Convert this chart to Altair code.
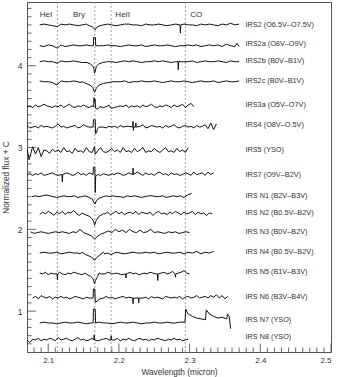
import altair as alt
import pandas as pd

# ---------------- data ----------------
NAMES = ["IRS2", "IRS2a", "IRS2b", "IRS2c", "IRS3a", "IRS4", "IRS5", "IRS7",
         "IRS N1", "IRS N2", "IRS N3", "IRS N4", "IRS N5", "IRS N6", "IRS N7", "IRS N8"]
LABELS = ["IRS2 (O6.5V–O7.5V)", "IRS2a (O8V–O9V)", "IRS2b (B0V–B1V)", "IRS2c (B0V–B1V)",
          "IRS3a (O5V–O7V)", "IRS4 (O8V–O.5V)", "IRS5 (YSO)", "IRS7 (O9V–B2V)",
          "IRS N1 (B2V–B3V)", "IRS N2 (B0.5V–B2V)", "IRS N3 (B0V–B2V)", "IRS N4 (B0.5V–B2V)",
          "IRS N5 (B1V–B3V)", "IRS N6 (B3V–B4V)", "IRS N7 (YSO)", "IRS N8 (YSO)"]
LABEL_Y = [4.50, 4.27, 4.06, 3.82, 3.52, 3.27, 2.97, 2.67,
           2.41, 2.20, 1.97, 1.72, 1.48, 1.17, 0.89, 0.68]
OFFSETS = [4.50, 4.245, 4.05, 3.805, 3.50, 3.25, 2.95, 2.67,
           2.40, 2.19, 1.96, 1.71, 1.455, 1.16, 0.855, 0.647]
STARTS = [2.088, 2.088, 2.088, 2.088, 2.070, 2.070, 2.070, 2.070,
          2.077, 2.088, 2.075, 2.088, 2.088, 2.078, 2.088, 2.070]
STEPS = [0.006, 0.006, 0.006, 0.006, 0.004, 0.004, 0.004, 0.004,
         0.005, 0.004, 0.005, 0.006, 0.004, 0.004, 0.006, 0.004]

# flux deviations in units of 0.01 on the sampling grid
IRS2 = [0,1,0,-1,0,1,0,1,0,-1, 0,1,0,1,0,0,1,0,-1,0, 1,1,0,0,-1,1,0,0,1,0,
        -1,0,1,0,1,0,0,-1,1,0, 1,0,-1,1,0,2,0,1]
IRS2a = [0,-1,1,0,0,1,-1,0,1,0, 0,1,0,-1,0,0,1,0,0,-1, 0,1,0,0,1,-1,0,1,0,0,
         1,0,-1,0,0,1,0,1,-1,0, 1,0,1,-1,2,0,1,-1]
IRS2b = [0,1,0,0,-1,1,0,0,1,0, -1,0,1,0,0,1,0,0,-1,0, 1,0,1,0,-1,0,0,1,0,1,
         0,-1,0,1,0,0,1,-1,0,1, 0,0,1,0,-1,1,0,0]
IRS2c = [1,0,0,-1,0,1,0,0,1,0, 0,-1,0,1,0,0,1,0,0,0, 1,-1,0,0,1,0,0,1,0,-1,
         0,1,0,0,1,0,-1,0,1,0, 0,1,-1,0,1,0,0,1]
IRS3a = [0,1,-1,2,0,1,3,1,0,-1, 1,0,2,-1,1,3,0,-1,1,0, 2,0,-1,1,2,0,1,-1,0,2,
         1,-1,0,1,0,2,-1,1,0,1, -1,2,0,1,3,0,-1,1,0,2, 1,-1,2,0,1,3,-1,2,4,0]
IRS4 = [2,-1,0,1,-1,2,0,1,0,-1, 1,4,0,1,-1,0,1,2,-1,0, 3,1,0,-1,1,0,2,0,-1,1,
        0,1,-1,2,0,1,1,-1,0,2, 1,3,-1,0,2,1,0,1,-1,2, 0,1,3,0,-1,1,2,0,1,-1,
        2,0,1,3,-2,5,-3,4]
IRS5 = [4,-5,6,-3,5,-6,2,1,-2,3, 0,2,-1,5,0,1,-2,4,0,1, -1,5,0,-1,2,1,5,0,-1,1,
        4,0,2,-1,5,0,1,-1,4,0, 2,5,-1,1,0,4,1,-1,2,5, 0,1,-1,4,0,2,-1,5]
IRS7 = [0,1,-1,1,0,2,-1,0,1,2, 0,-1,1,0,2,1,-1,0,3,0, 1,-1,2,0,1,3,-1,1,0,-1,
        1,0,2,1,-1,0,2,1,0,3, 1,-1,2,0,1,-1,2,3,0,1, -1,2,0,1,-1,0,2,1,-1,3,
        0,1,2,-1,3,0,2]
N1 = [0,1,0,1,2,1,0,-1,0,1, 0,0,1,-1,0,1,0,0,1,0, -1,1,0,1,0,0,-1,1,0,1,
      0,-1,0,1,1,0,0,1,-1,0, 1,0,1,-1,2,1]
N2 = [-1,2,0,3,1,-2,2,0,3,-1, 2,1,4,0,-2,1,3,0,2,-1, 1,0,-1,0,2,-1,1,3,0,2,
      -1,1,2,0,3,-1,2,1,0,2, -2,1,3,0,1,-1,2,0,3,1, -1,2,0,1,3,-1,2,0,1,-2, 1,0]
N3 = [1,-1,0,1,0,-1,0,1,0,1, 0,-1,1,0,4,0,1,0,-1,0, 1,0,2,0,4,1,3,0,4,1,
      0,3,0,1,4,0,1,0,-1,1, 0,1,-1,0,1,0]
N4 = [0,1,0,0,1,-1,0,1,0,0, 1,0,-1,0,0,1,0,0,1,0, -1,0,1,0,0,1,0,1,-1,0,
      1,0,0,1,-1,1,0,2,-1,1, 0,2]
N5 = [1,0,2,-1,1,0,1,2,0,-1, 1,0,2,1,0,-1,1,0,2,1, 0,1,-1,0,2,1,0,1,0,-1,
      1,0,2,0,1,-1,0,1,0,2, 1,0,-1,1,2,0,1,3,0,1, 2,4,1,0]
N6 = [0,2,-1,3,1,0,2,-1,1,0, 2,0,1,-1,0,2,1,0,-1,1, 0,2,1,0,-1,1,2,0,1,-1,
      0,1,2,0,1,-1,0,2,1,0, 1,-1,2,0,1,0,-1,2,1,0, 1,0,2,-1,1,2,0,1,3,0,
      1,2,0,3,1,4,0,3,-1,2]
N7 = [0,1,0,0,-1,0,1,0,0,1, 0,-1,0,0,1,0,0,-1,0,1, 0,0,1,0,-1,0,0,1,0,0,
      1,0,0,1, 0,11,8,6,5,3,11,8,6,7,6,-2]
N8 = [0,-3,1,0,2,-1,1,0,2,1, -1,3,0,1,2,0,-1,1,3,0, 1,-1,0,2,1,-1,0,1,2,0,
      1,0,2,-1,1,0,2,0,-1,1, 2,0,1,-1,1,0,2,1,0,-1, 1,0,2,0,1,-1,0,1]
SERIES = [IRS2, IRS2a, IRS2b, IRS2c, IRS3a, IRS4, IRS5, IRS7,
          N1, N2, N3, N4, N5, N6, N7, N8]

# line features (wavelength, deviation in 0.01)
FEATURES = [
    [(2.113,-2),(2.158,-1),(2.162,-2),(2.1645,-4),(2.1665,-6),(2.1685,-3),(2.173,-1),
     (2.2865,0),(2.287,-10),(2.2875,0)],
    [(2.113,-3),(2.1638,0),(2.1642,10),(2.1668,10),(2.1672,0),(2.364,-1),(2.367,3)],
    [(2.113,-2),(2.155,-1),(2.160,-3),(2.163,-5),(2.1645,-8),(2.1655,-14),(2.1665,-12),
     (2.168,-6),(2.171,-3),(2.177,-1),(2.2835,0),(2.284,-10),(2.2845,0)],
    [(2.1125,-4),(2.145,-1),(2.153,-2),(2.159,-4),(2.163,-7),(2.1655,-13),(2.168,-8),
     (2.172,-4),(2.178,-2),(2.186,-1)],
    [(2.1643,0),(2.1648,11),(2.1656,6),(2.1663,9),(2.167,-2),(2.170,-3),(2.173,0),(2.189,-2)],
    [(2.1635,0),(2.164,9),(2.1665,9),(2.167,-8),(2.1685,-7),(2.1695,-2),(2.172,0),
     (2.2195,0),(2.220,7),(2.2205,-4),(2.221,0),(2.2235,0),(2.224,5),(2.2245,0)],
    [(2.073,-10),(2.1655,6),(2.1665,-3)],
    [(2.1195,0),(2.120,-9),(2.1205,0),(2.1635,0),(2.164,9),(2.166,9),(2.1665,-22),
     (2.1672,-2),(2.170,0),(2.2195,0),(2.220,8),(2.2205,0)],
    [(2.158,-1),(2.1625,-3),(2.165,-8),(2.1665,-9),(2.168,-5),(2.172,-2),(2.178,0),(2.303,4)],
    [(2.152,-1),(2.158,-3),(2.162,-6),(2.1645,-10),(2.1655,-14),(2.168,-8),(2.172,-3),(2.178,0)],
    [(2.150,0),(2.156,-2),(2.161,-4),(2.1655,-8),(2.169,-5),(2.174,-2),(2.180,0)],
    [(2.145,-1),(2.153,-2),(2.159,-4),(2.163,-6),(2.1655,-9),(2.168,-6),(2.172,-3),
     (2.180,-1),(2.189,-2)],
    [(2.1125,0),(2.113,-7),(2.1135,0),(2.155,-1),(2.160,-3),(2.1635,-6),(2.1655,-12),
     (2.167,-8),(2.170,-3),(2.175,0),(2.2095,0),(2.210,-5),(2.2105,0),(2.2545,0),
     (2.255,-8),(2.2555,0),(2.2795,0),(2.280,-4),(2.2805,0)],
    [(2.1635,0),(2.164,11),(2.166,11),(2.1665,-5),(2.169,-4),(2.173,-1),(2.178,0),
     (2.2195,0),(2.220,-7),(2.2205,0),(2.2275,0),(2.228,-6),(2.2285,0)],
    [(2.1635,0),(2.164,17),(2.1665,17),(2.167,0),(2.2935,1),(2.2945,17),(2.3225,4),
     (2.3235,16),(2.3525,5),(2.3535,11),(2.356,8),(2.358,-7)],
    [(2.1645,0),(2.165,6),(2.1655,0),(2.1885,0),(2.189,5),(2.1895,0)],
]

LINE_WL = [2.113, 2.166, 2.189, 2.294]
LINE_NAMES = ["HeI", "Brγ", "HeII", "CO"]
LINE_TEXT_X = [2.088, 2.135, 2.195, 2.301]

X_LABELS = [2.1, 2.2, 2.3, 2.4, 2.5]
Y_LABELS = [1, 2, 3, 4]

XDOM = [2.07, 2.5]
YDOM = [0.5, 4.78]

# ---------------- build table ----------------
rows = []
for name, c, s, st, vals, feats in zip(NAMES, OFFSETS, STARTS, STEPS, SERIES, FEATURES):
    fx = [f[0] for f in feats]
    pts = []
    for i, v in enumerate(vals):
        w = s + st * i
        if any(abs(w - f) < 0.002 for f in fx):
            continue
        pts.append((w, c + v / 100.0))
    for w, v in feats:
        pts.append((w, c + v / 100.0))
    pts.sort()
    for k, (w, f) in enumerate(pts):
        rows.append({"name": name, "wl": w, "flux": f, "k": k})
spec = pd.DataFrame(rows)

lab_df = pd.DataFrame({"label": LABELS, "flux": LABEL_Y, "wl": [2.379] * len(LABELS)})
lines_df = pd.DataFrame({"wl": LINE_WL, "name": LINE_NAMES})
ltext_df = pd.DataFrame({"wl": LINE_TEXT_X, "name": LINE_NAMES, "flux": [4.625] * 4})

xminor = [round(2.07 + 0.01 * i, 2) for i in range(1, 43)]
xminor = [v for v in xminor if round(v * 10, 6) != round(v * 10)]
yminor = [round(0.5 + 0.1 * i, 1) for i in range(1, 43)]
yminor = [v for v in yminor if abs(v - round(v)) > 1e-6]

xs = alt.Scale(domain=XDOM, nice=False, zero=False)
ys = alt.Scale(domain=YDOM, nice=False, zero=False)
FONT = "Liberation Sans"

XAX = alt.Axis(values=X_LABELS, format=".1f", tickSize=0, domain=False,
               grid=False, labelPadding=4, titlePadding=3,
               labelFontSize=8, titleFontSize=8.3, labelFont=FONT,
               titleFont=FONT, titleFontWeight="normal",
               labelColor="#333", titleColor="#333")
YAX = alt.Axis(values=Y_LABELS, format="d", tickSize=0, domain=False,
               grid=False, labelPadding=5, titlePadding=7,
               labelFontSize=8.5, titleFontSize=8.3, labelFont=FONT,
               titleFont=FONT, titleFontWeight="normal",
               labelColor="#333", titleColor="#333")
XT = "Wavelength (micron)"
YT = "Normalized flux + C"


def X():
    return alt.X("wl:Q", scale=xs, axis=XAX, title=XT)


def Y():
    return alt.Y("flux:Q", scale=ys, axis=YAX, title=YT)


spectra = alt.Chart(spec).mark_line(color="#111111", strokeWidth=1.0, clip=True).encode(
    x=X(), y=Y(), detail="name:N", order="k:Q")

dashed = alt.Chart(lines_df).mark_rule(color="#8a8a8a", strokeWidth=0.8,
                                       strokeDash=[2, 2]).encode(x=X())

line_text = alt.Chart(ltext_df).mark_text(align="left", baseline="middle", fontSize=8,
                                          font=FONT, color="#333").encode(
    x=X(), y=Y(), text="name:N")

labels = alt.Chart(lab_df).mark_text(align="left", baseline="middle", fontSize=7.3,
                                     font=FONT, color="#333").encode(
    x=X(), y=Y(), text="label:N")

xminor_t = alt.Chart(pd.DataFrame({"wl": xminor})).mark_rule(color="#444", strokeWidth=0.8).encode(
    x=X(), y=alt.value(350), y2=alt.value(345.5))
xmajor_t = alt.Chart(pd.DataFrame({"wl": X_LABELS})).mark_rule(color="#444", strokeWidth=0.8).encode(
    x=X(), y=alt.value(350), y2=alt.value(341.5))
yminor_t = alt.Chart(pd.DataFrame({"flux": yminor})).mark_rule(color="#444", strokeWidth=0.8).encode(
    y=Y(), x=alt.value(0), x2=alt.value(4.5))
ymajor_t = alt.Chart(pd.DataFrame({"flux": Y_LABELS})).mark_rule(color="#444", strokeWidth=0.8).encode(
    y=Y(), x=alt.value(0), x2=alt.value(9))

chart = alt.layer(
    dashed, xminor_t, xmajor_t, yminor_t, ymajor_t, spectra, line_text, labels
).properties(
    width=304, height=350,
    autosize=alt.AutoSizeParams(type="none"),
    padding={"left": 27, "top": 2, "right": 10, "bottom": 25},
    background="white",
).configure_view(stroke="#555", strokeWidth=1)

chart.save("out.html", embed_options={"renderer": "svg", "actions": False})
